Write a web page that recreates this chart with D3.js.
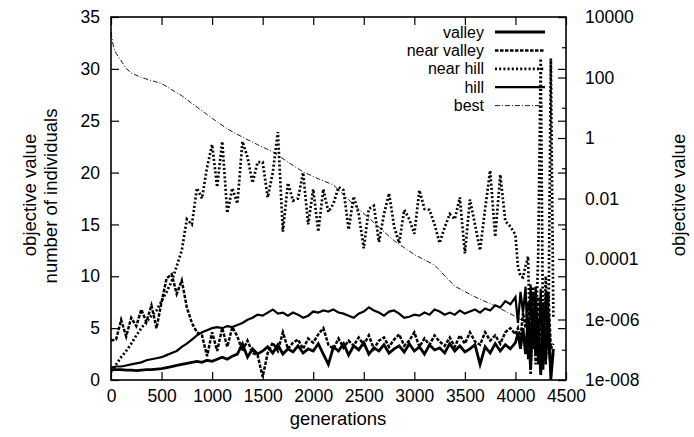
<!DOCTYPE html>
<html>
<head>
<meta charset="utf-8">
<script src="https://cdn.jsdelivr.net/npm/d3@7"></script>
<style>
  html, body { margin: 0; padding: 0; background: #fff; }
  svg text { font-family: "Liberation Sans", Arial, Helvetica, sans-serif; fill: #000; }
</style>
</head>
<body>
<svg id="chart" width="694" height="437"></svg>
<script>
// ---- data ----
const generations = [
  0,50,100,150,200,250,300,350,400,450,
  500,550,600,650,700,750,800,850,900,950,
  1000,1050,1100,1150,1200,1250,1300,1350,1400,1450,
  1500,1550,1600,1650,1700,1750,1800,1850,1900,1950,
  2000,2050,2100,2150,2200,2250,2300,2350,2400,2450,
  2500,2550,2600,2650,2700,2750,2800,2850,2900,2950,
  3000,3050,3100,3150,3200,3250,3300,3350,3400,3450,
  3500,3550,3600,3650,3700,3750,3800,3850,3900,3950,
  4000,4025,4050,4075,4100,4125,4150,4175,4200,4225,4250,4275,4300,4325,4350,4375
];
const valley = [
  1.0,1.0,1.0,0.95,0.95,0.9,0.95,1.0,1.0,1.05,
  1.1,1.2,1.3,1.4,1.5,1.6,1.7,1.8,1.7,1.9,
  1.8,2.0,2.2,2.0,2.3,2.5,3.5,2.2,3.0,2.5,
  2.8,3.2,2.6,3.4,2.5,3.0,2.7,3.3,2.6,3.0,
  2.8,3.5,2.5,1.5,3.2,2.8,3.5,2.4,3.3,2.9,
  3.6,2.5,3.1,2.8,3.4,2.6,3.0,3.3,2.7,3.5,
  2.8,3.2,2.5,3.4,2.9,3.1,2.6,3.5,2.8,3.3,
  2.7,3.0,3.4,1.5,3.2,2.6,3.5,2.8,3.4,3.0,
  3.6,4.5,3.0,5.0,2.5,6.0,1.0,7.0,2.5,6.0,0.5,5.5,2.0,6.5,0.0,3.0
];
const nearValley = [
  3.8,3.9,5.8,4.2,6.0,5.2,6.8,5.6,7.2,5.0,
  7.5,9.8,10.2,8.3,9.6,7.0,5.5,4.6,4.3,2.3,
  4.6,2.8,5.0,3.2,5.1,4.2,2.8,3.8,2.6,2.4,
  0.3,2.6,3.6,2.8,4.6,3.0,3.6,3.9,3.0,4.0,
  3.6,4.4,5.0,3.4,3.0,4.0,3.1,3.8,3.3,4.1,
  3.4,4.3,3.0,3.8,4.1,3.2,3.9,4.4,3.3,3.8,
  4.6,3.2,4.0,3.4,4.3,3.7,3.3,4.1,3.2,4.3,
  3.5,4.6,3.7,3.4,4.6,3.8,4.3,3.5,4.6,5.0,
  4.4,5.0,4.0,6.5,5.0,7.5,3.0,8.5,1.5,8.0,2.0,7.5,1.5,8.5,3.0,3.5
];
const nearHill = [
  0.8,1.5,2.2,2.8,3.5,4.3,5.0,5.6,6.2,6.7,
  7.6,8.5,9.5,11.0,12.5,15.5,15.0,18.5,17.5,20.5,
  22.7,18.6,23.0,16.1,18.5,17.0,23.0,21.5,19.0,21.0,
  21.0,17.6,20.0,23.9,14.3,19.0,17.3,17.5,20.0,15.0,
  18.4,14.3,18.4,16.2,17.0,18.6,18.3,14.5,17.7,16.0,
  12.7,16.5,16.8,13.3,16.0,18.0,14.8,13.2,16.4,15.5,
  14.1,18.3,16.5,16.4,15.0,13.2,14.7,16.0,15.5,17.6,
  12.2,17.4,15.0,12.5,16.5,20.2,13.8,19.8,15.3,14.8,
  14.0,10.9,10.0,9.9,11.0,11.9,0.5,9.0,4.0,12.0,31.0,1.5,10.0,3.0,31.0,6.0
];
const hill = [
  1.2,1.3,1.3,1.4,1.5,1.6,1.7,1.9,2.0,2.1,
  2.2,2.4,2.6,2.8,3.2,3.5,3.9,4.3,4.6,4.8,
  5.0,5.1,5.0,5.2,5.1,5.3,5.5,5.8,6.0,6.3,
  6.2,6.5,6.8,6.4,6.5,6.2,6.5,6.3,6.0,6.2,
  6.6,6.5,6.7,6.6,6.8,6.5,6.4,6.2,6.0,6.4,
  6.6,7.0,6.7,6.5,6.2,6.6,6.7,6.4,6.0,6.1,
  6.3,6.2,6.5,6.3,6.8,6.6,6.3,6.5,6.3,6.7,
  6.4,6.6,6.8,6.5,6.9,6.7,7.2,7.0,7.6,7.3,
  8.0,5.5,8.5,6.5,9.0,2.0,9.2,3.0,9.0,1.5,8.8,1.0,8.5,3.5,1.0,2.5
];
const bestGenerations = [0,25,50,100,150,200,300,500,700,800,1000,1150,1300,1450,1600,1750,1900,2050,2200,2400,2600,2800,3000,3200,3400,3600,3800,4000,4100,4250];
const bestValues = [3162,1000,631,355,200,141,100,63,25,14,4.5,2.0,1.07,0.6,0.35,0.16,0.076,0.045,0.028,6.3e-3,1.6e-3,4e-4,1.4e-4,6.3e-5,1.26e-5,5.6e-6,2.8e-6,1.26e-6,7.9e-7,5.6e-7];

const xTicks = [0,500,1000,1500,2000,2500,3000,3500,4000,4500];
const yTicks = [0,5,10,15,20,25,30,35];
const y2Major = [1e4,1e2,1,1e-2,1e-4,1e-6,1e-8];
const y2MajorLabels = ["10000","100","1","0.01","0.0001","1e-006","1e-008"];
const y2Minor = [1e3,1e1,1e-1,1e-3,1e-5,1e-7];

const seriesNames = ["valley","near valley","near hill","hill","best"];

// ---- layout ----
const L = 111, R = 566, T = 17, B = 380;
const svg = d3.select("#chart");
svg.append("rect").attr("width",694).attr("height",437).attr("fill","#fff");

const x = d3.scaleLinear().domain([0,4500]).range([L,R]);
const y = d3.scaleLinear().domain([0,35]).range([B,T]);
const y2 = d3.scaleLog().domain([1e-8,1e4]).range([B,T]);

const styles = {
  "valley":      {w:2.8, dash:null},
  "near valley": {w:2.5, dash:"3.5,1.5"},
  "near hill":   {w:2.7, dash:"2,2.2"},
  "hill":        {w:2.2, dash:null},
  "best":        {w:0.9, dash:"5,2,1,2"}
};

// axes
const tickFont = 17.5;
const titleFont = 18.5;
const legendFont = 16;
function styleAxis(g){
  g.select(".domain").remove();
  g.selectAll(".tick line").attr("stroke","#000").attr("stroke-width",1.2);
  g.selectAll(".tick text").attr("font-size",tickFont).attr("font-family","Liberation Sans, Arial, sans-serif").attr("fill","#000");
}
svg.append("g").attr("transform",`translate(${L},0)`)
  .call(d3.axisLeft(y).tickValues(yTicks).tickSize(-8).tickPadding(11).tickFormat(d3.format("d")))
  .call(styleAxis);
svg.append("g").attr("transform",`translate(0,${B})`)
  .call(d3.axisBottom(x).tickValues(xTicks).tickSize(-8).tickPadding(10).tickFormat(d3.format("d")))
  .call(styleAxis);
svg.append("g").attr("transform",`translate(0,${T})`)
  .call(d3.axisTop(x).tickValues(xTicks).tickSize(-8).tickFormat(""))
  .call(styleAxis);
// mirrored y ticks on right
svg.append("g").attr("transform",`translate(${R},0)`)
  .call(d3.axisRight(y).tickValues(yTicks).tickSize(-8).tickFormat(""))
  .call(styleAxis);
// y2 axis
svg.append("g").attr("transform",`translate(${R},0)`)
  .call(d3.axisRight(y2).tickValues(y2Major).tickSize(-8).tickPadding(19)
    .tickFormat((d,i)=>y2MajorLabels[i]))
  .call(styleAxis);
svg.append("g").attr("transform",`translate(${R},0)`)
  .call(d3.axisRight(y2).tickValues(y2Minor).tickSize(-4).tickFormat(""))
  .call(styleAxis);

// frame
svg.append("rect").attr("x",L).attr("y",T).attr("width",R-L).attr("height",B-T)
  .attr("fill","none").attr("stroke","#000").attr("stroke-width",1.6);

// axis titles
svg.append("text").attr("x",338).attr("y",425).attr("text-anchor","middle")
  .attr("font-size",titleFont).text("generations");
svg.append("text").attr("transform","translate(36,195) rotate(-90)").attr("text-anchor","middle")
  .attr("font-size",titleFont).text("objective value");
svg.append("text").attr("transform","translate(57,196) rotate(-90)").attr("text-anchor","middle")
  .attr("font-size",titleFont).text("number of individuals");
svg.append("text").attr("transform","translate(685,195) rotate(-90)").attr("text-anchor","middle")
  .attr("font-size",titleFont).text("objective value");

// lines
const plot = svg.append("g");
const countLine = d3.line().x((d,i)=>x(generations[i])).y(d=>y(d));
const bestLine = d3.line().x((d,i)=>x(bestGenerations[i])).y(d=>y2(d));

function drawPath(g, dAttr, name){
  const s = styles[name];
  const p = g.append("path").attr("d",dAttr).attr("fill","none").attr("stroke","#000")
    .attr("stroke-width",s.w).attr("stroke-linejoin","miter");
  if (s.dash) p.attr("stroke-dasharray",s.dash);
  return p;
}
drawPath(plot, bestLine(bestValues), "best");
drawPath(plot, countLine(nearHill), "near hill");
drawPath(plot, countLine(nearValley), "near valley");
drawPath(plot, countLine(hill), "hill");
drawPath(plot, countLine(valley), "valley");

// legend
const legend = svg.append("g");
seriesNames.forEach((name,i)=>{
  const ry = 32 + i*18.4;
  legend.append("text").attr("x",484).attr("y",ry+5.5).attr("text-anchor","end")
    .attr("font-size",legendFont).text(name);
  drawPath(legend, `M495,${ry}H545`, name);
});
</script>
</body>
</html>
